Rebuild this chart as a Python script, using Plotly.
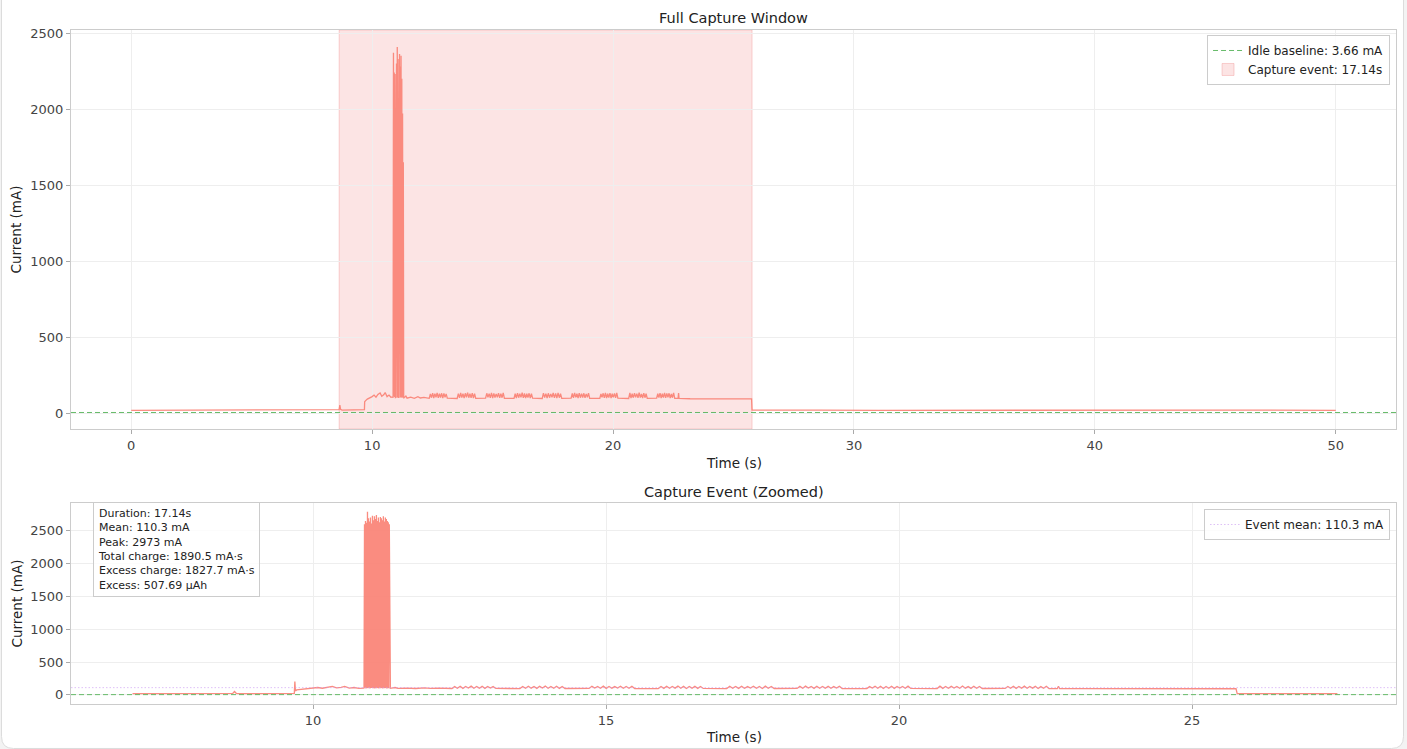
import numpy as np
import plotly.graph_objects as go

# ---------------- summary statistics ----------------
idle_baseline_ma = 3.66
event_start_s = 8.63
event_end_s = 25.77
event_duration_s = 17.14
event_mean_ma = 110.3
event_peak_ma = 2973
total_charge_mas = 1890.5
excess_charge_mas = 1827.7
excess_uah = 507.69

# ---------------- idle parts of the full capture window ----------------
full_pre_t = [0.0, 1.5, 3.0, 4.5, 6.0]
full_pre_ma = [18, 19, 18, 19, 18]
full_post_t = [28.5, 31.0, 34.0, 37.0, 40.0, 43.0, 46.0, 50.0]
full_post_ma = [19, 18, 19, 18, 19, 18, 19, 18]

# ---------------- event window: before the big spike ----------------
pre_t = [6.92, 7.5, 8.0, 8.55, 8.63, 8.66, 8.69, 8.75, 9.2, 9.6, 9.68, 9.69, 9.70,
         9.72, 9.80, 9.90, 10.0, 10.08, 10.16, 10.24, 10.33, 10.40, 10.48, 10.54,
         10.62, 10.70, 10.78, 10.86]
pre_event_ma = [20, 19, 20, 19, 22, 52, 24, 19, 20, 19, 22, 205, 60,
                75, 85, 95, 104, 112, 101, 116, 128, 106, 113, 130,
                104, 112, 100, 102]
# decimated version shown in the full-window panel
pre_full_ma = [20, 19, 20, 19, 22, 52, 24, 19, 20, 19, 22, 74, 78,
               80, 92, 98, 108, 118, 104, 122, 132, 110, 120, 135,
               108, 118, 104, 106]

# ---------------- the big radio spike ----------------
spike_start_s = 10.87
spike_end_s = 11.31
spike_event_ma = [105, 2600, 110, 2650, 98, 2620, 104, 2790, 101, 2690, 108, 2640,
                  99, 2700, 103, 2610, 106, 2730, 100, 2660, 102, 2720, 97, 2680,
                  105, 2740, 101, 2650, 104, 2700, 99, 2630, 107, 2710, 100, 2690,
                  103, 2660, 98, 2720, 105, 2640, 101, 2700, 104, 2680, 99, 2650,
                  102, 2630, 100, 2600, 104]
spike_full_ma = [100, 2370, 110, 2240, 105, 2230, 98, 2250, 104, 2300, 101, 2408,
                 106, 2330, 99, 2290, 103, 2362, 100, 2280, 105, 2350, 102, 2200,
                 100, 1970, 104, 1650, 100]

# ---------------- between spike and bursts ----------------
mid_t = [11.32, 11.40, 11.45, 11.60, 11.75, 11.90, 12.00, 12.15, 12.30]
mid_ma = [100, 112, 98, 104, 97, 108, 99, 103, 98]

# ---------------- periodic bursts ----------------
burst_start_s = [12.37, 13.53, 14.71, 15.89, 17.06, 18.26, 19.45, 20.65, 21.81]
burst_end_s = [13.12, 14.30, 15.49, 16.66, 17.87, 19.03, 20.20, 21.42, 22.56]
burst_ma = [
    [97, 126, 101, 131, 99, 128, 104, 133, 100, 127, 102, 130, 99, 129, 103, 126, 98],
    [96, 128, 100, 132, 102, 127, 99, 130, 104, 134, 101, 128, 100, 131, 99, 127, 97],
    [98, 130, 103, 127, 100, 133, 99, 129, 102, 126, 104, 131, 100, 128, 101, 132, 96],
    [97, 127, 99, 131, 101, 128, 103, 134, 100, 129, 98, 127, 102, 130, 99, 128, 98],
    [96, 131, 102, 128, 99, 130, 101, 126, 104, 132, 100, 129, 98, 133, 101, 127, 97],
    [98, 129, 100, 133, 103, 127, 99, 131, 101, 128, 102, 130, 100, 126, 104, 131, 96],
    [97, 126, 104, 130, 100, 132, 98, 128, 102, 131, 99, 127, 103, 129, 100, 133, 98],
    [96, 132, 99, 127, 101, 130, 103, 128, 100, 134, 102, 126, 99, 131, 101, 128, 97],
    [98, 128, 101, 131, 99, 127, 102, 133, 100, 129, 103, 130, 98, 126, 101, 132, 96],
]

# ---------------- tail of the event and after ----------------
post_t = [22.62, 22.70, 22.72, 22.74, 23.2, 23.8, 24.4, 25.0, 25.5, 25.75, 25.77,
          26.2, 26.8, 27.48]
post_ma = [96, 97, 132, 96, 94, 95, 93, 94, 93, 93, 20,
           19, 20, 19]

# ---------------- axis settings ----------------
x_full_range = [-2.5, 52.5]
y_full_range = [-105, 2520]
x_event_range = [5.87, 28.48]
y_event_range = [-139, 2920]
x_full_ticks = [0, 10, 20, 30, 40, 50]
x_event_ticks = [10, 15, 20, 25]
y_ticks = [0, 500, 1000, 1500, 2000, 2500]


def event_series(pre_values, spike_values):
    t = list(pre_t)
    y = list(pre_values)
    t += list(np.linspace(spike_start_s, spike_end_s, len(spike_values)))
    y += list(spike_values)
    t += list(mid_t)
    y += list(mid_ma)
    for s, e, vals in zip(burst_start_s, burst_end_s, burst_ma):
        t += list(np.linspace(s, e, len(vals)))
        y += list(vals)
    t += list(post_t)
    y += list(post_ma)
    return t, y


ev_t, ev_y = event_series(pre_event_ma, spike_event_ma)
mid_full_t, mid_full_y = event_series(pre_full_ma, spike_full_ma)
full_t = full_pre_t + mid_full_t + full_post_t
full_y = full_pre_ma + mid_full_y + full_post_ma

TRACE = "rgba(250,128,114,0.9)"
GREEN = "rgba(76,175,80,0.85)"
VIOLET = "rgba(200,150,240,0.6)"
FONT = "DejaVu Sans"

fig = go.Figure()

fig.add_trace(go.Scatter(x=full_t, y=full_y, mode="lines",
                         line=dict(color=TRACE, width=1.3), showlegend=False,
                         xaxis="x", yaxis="y", hoverinfo="skip"))
fig.add_trace(go.Scatter(x=x_full_range, y=[idle_baseline_ma, idle_baseline_ma], mode="lines",
                         line=dict(color=GREEN, width=1, dash="5px,3px"),
                         name=f"Idle baseline: {idle_baseline_ma:.2f} mA",
                         legend="legend", legendrank=1, xaxis="x", yaxis="y"))

fig.add_trace(go.Scatter(x=ev_t, y=ev_y, mode="lines",
                         line=dict(color=TRACE, width=1.3), showlegend=False,
                         xaxis="x2", yaxis="y2", hoverinfo="skip"))
fig.add_trace(go.Scatter(x=x_event_range, y=[idle_baseline_ma, idle_baseline_ma], mode="lines",
                         line=dict(color=GREEN, width=1, dash="5px,3px"), showlegend=False,
                         xaxis="x2", yaxis="y2"))
fig.add_trace(go.Scatter(x=x_event_range, y=[event_mean_ma, event_mean_ma], mode="lines",
                         line=dict(color=VIOLET, width=1, dash="1.5px,2px"),
                         name=f"Event mean: {event_mean_ma:.1f} mA",
                         legend="legend2", xaxis="x2", yaxis="y2"))

# capture-event shading
fig.add_shape(type="rect", xref="x", yref="y", x0=event_start_s, x1=event_end_s,
              y0=y_full_range[0], y1=y_full_range[1], fillcolor="rgba(240,120,120,0.2)",
              line=dict(color="rgba(240,120,120,0.3)", width=1), layer="below",
              showlegend=True, name=f"Capture event: {event_duration_s:.2f}s",
              legend="legend", legendrank=2)

# card background
L, R, T, B = -0.05245, 1.00566, 1.0623, -0.0660
rx, ry = 0.00906, 0.0178
card = (f"M {L+rx},{T} L {R-rx},{T} Q {R},{T} {R},{T-ry} L {R},{B+ry} Q {R},{B} {R-rx},{B} "
        f"L {L+rx},{B} Q {L},{B} {L},{B+ry} L {L},{T-ry} Q {L},{T} {L+rx},{T} Z")
fig.add_shape(type="path", xref="paper", yref="paper", path=card,
              fillcolor="white", line=dict(color="#dcdcdc", width=1), layer="below")

axis_common = dict(showline=True, mirror=True, linecolor="#cccccc", linewidth=1,
                   showgrid=True, gridcolor="#eeeeee", gridwidth=1, zeroline=False,
                   ticks="outside", ticklen=4, tickwidth=1, tickcolor="#aaaaaa",
                   tickfont=dict(family=FONT, size=13, color="#444444"))

fig.update_layout(
    width=1407, height=749, autosize=False,
    margin=dict(l=71, r=11, t=30, b=45),
    paper_bgcolor="#f3f3f3", plot_bgcolor="#f8f8f8",
    font=dict(family=FONT, color="#222222"),
    xaxis=dict(domain=[0, 1], anchor="y", range=x_full_range, tickvals=x_full_ticks, **axis_common),
    yaxis=dict(domain=[0.408, 1], anchor="x", range=y_full_range, tickvals=y_ticks, **axis_common),
    xaxis2=dict(domain=[0, 1], anchor="y2", range=x_event_range, tickvals=x_event_ticks, **axis_common),
    yaxis2=dict(domain=[0, 0.298], anchor="x2", range=y_event_range, tickvals=y_ticks, **axis_common),
    legend=dict(x=0.9955, y=0.9926, xanchor="right", yanchor="top",
                bgcolor="rgba(255,255,255,0.8)", bordercolor="#cccccc", borderwidth=1,
                font=dict(family=FONT, size=12, color="#222222"), itemwidth=30, tracegroupgap=0),
    legend2=dict(x=0.9955, y=0.2893, xanchor="right", yanchor="top",
                 bgcolor="rgba(255,255,255,0.8)", bordercolor="#cccccc", borderwidth=1,
                 font=dict(family=FONT, size=12, color="#222222"), itemwidth=30),
    showlegend=True,
)

stats_text = (f"Duration: {event_duration_s:.2f}s<br>"
              f"Mean: {event_mean_ma:.1f} mA<br>"
              f"Peak: {event_peak_ma} mA<br>"
              f"Total charge: {total_charge_mas:.1f} mA·s<br>"
              f"Excess charge: {excess_charge_mas:.1f} mA·s<br>"
              f"Excess: {excess_uah:.2f} µAh")

annos = [
    dict(text="Full Capture Window", x=0.5, y=1.0178, xref="paper", yref="paper",
         xanchor="center", yanchor="middle", showarrow=False,
         font=dict(family=FONT, size=14.5, color="#222222")),
    dict(text="Capture Event (Zoomed)", x=0.5, y=0.3145, xref="paper", yref="paper",
         xanchor="center", yanchor="middle", showarrow=False,
         font=dict(family=FONT, size=14.5, color="#222222")),
    dict(text="Time (s)", x=0.5, y=0.3576, xref="paper", yref="paper",
         xanchor="center", yanchor="middle", showarrow=False,
         font=dict(family=FONT, size=13.5, color="#222222")),
    dict(text="Time (s)", x=0.5, y=-0.049, xref="paper", yref="paper",
         xanchor="center", yanchor="middle", showarrow=False,
         font=dict(family=FONT, size=13.5, color="#222222")),
    dict(text="Current (mA)", x=-0.0415, y=(704 - 229.5) / 674, xref="paper", yref="paper",
         xanchor="center", yanchor="middle", showarrow=False, textangle=-90,
         font=dict(family=FONT, size=13.5, color="#222222")),
    dict(text="Current (mA)", x=-0.0415, y=(704 - 603.5) / 674, xref="paper", yref="paper",
         xanchor="center", yanchor="middle", showarrow=False, textangle=-90,
         font=dict(family=FONT, size=13.5, color="#222222")),
    dict(text=stats_text, x=0.0166, y=0.2997, xref="paper", yref="paper",
         xanchor="left", yanchor="top", showarrow=False, align="left",
         bgcolor="rgba(255,255,255,0.8)", bordercolor="#cccccc", borderwidth=1, borderpad=4,
         font=dict(family=FONT, size=11, color="#222222")),
]
fig.update_layout(annotations=annos)

fig.write_html("out.html", config={"displayModeBar": False},
               post_script="document.body.style.margin='0';document.body.style.overflow='hidden';")
